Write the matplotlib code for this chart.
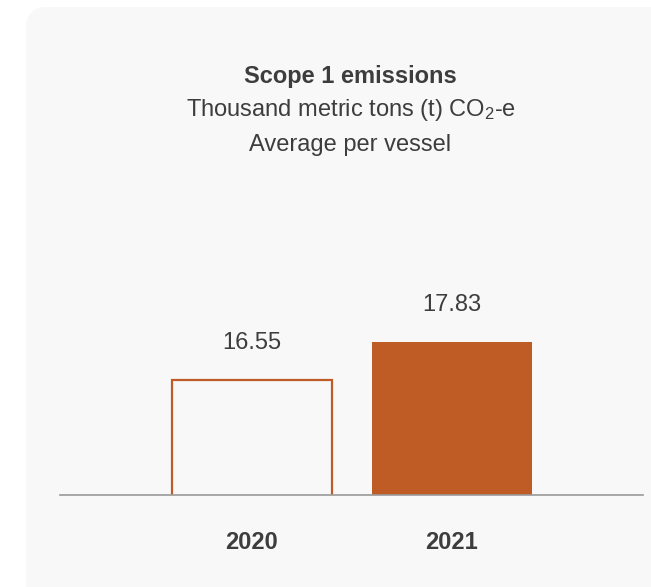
import matplotlib
matplotlib.use("Agg")
from matplotlib import pyplot as plt
from matplotlib.patches import FancyBboxPatch

years = ["2020", "2021"]
values = [16.55, 17.83]
title = "Scope 1 emissions"
subtitle = ["Thousand metric tons (t) CO$_2$-e", "Average per vessel"]

ORANGE = "#bf5b25"
TEXT = "#3d3d3d"
FS = 17

plt.rcParams["font.family"] = ["Liberation Sans", "DejaVu Sans"]
plt.rcParams["mathtext.fontset"] = "custom"
plt.rcParams["mathtext.rm"] = "Liberation Sans"
plt.rcParams["mathtext.it"] = "Liberation Sans:italic"
plt.rcParams["mathtext.bf"] = "Liberation Sans:bold"

W, H = 651, 587
fig = plt.figure(figsize=(W / 100, H / 100), dpi=100)
fig.patch.set_facecolor("white")

# rounded grey card behind everything
top = 1 - 7 / H
card = FancyBboxPatch((26 / W, -0.2), 1.2, top + 0.2,
                      boxstyle="round,pad=0,rounding_size=0.032",
                      transform=fig.transFigure, facecolor="#f8f8f8",
                      edgecolor="none", zorder=-5,
                      mutation_aspect=W / H)
fig.patches.append(card)

fig.text(350 / W, 1 - 76 / H, title, ha="center", va="center",
         fontsize=FS, fontweight="bold", color=TEXT)
fig.text(351 / W, 1 - 110 / H, subtitle[0], ha="center", va="center",
         fontsize=FS, color=TEXT)
fig.text(350 / W, 1 - 145 / H, subtitle[1], ha="center", va="center",
         fontsize=FS, color=TEXT)

ax = fig.add_axes([60 / W, 1 - 495 / H, (643 - 60) / W, (495 - 300) / H])
ax.set_zorder(2)
ax.set_facecolor("none")
x = range(len(years))
ax.bar(0, values[0], width=0.8, bottom=0, facecolor="none",
       edgecolor=ORANGE, linewidth=1.6)
ax.bar(1, values[1], width=0.8, bottom=0, color=ORANGE, edgecolor="none")
ax.set_ylim(12.7, 19.22)
ax.set_xlim(-0.9575, 1.9575)

for i, v in zip(x, values):
    ax.annotate(f"{v:.2f}", (i, v), xytext=(0, 18.5), textcoords="offset points",
                ha="center", va="bottom", fontsize=FS, color=TEXT)

ax.set_xticks(list(x))
ax.set_xticklabels(years, fontsize=FS, fontweight="bold", color=TEXT)
ax.tick_params(axis="x", length=0, pad=26)
ax.set_yticks([])
for side in ["top", "right", "left"]:
    ax.spines[side].set_visible(False)
ax.spines["bottom"].set_color("#9a9a9a")
ax.spines["bottom"].set_linewidth(1.2)

fig.savefig("out.png", dpi=100)
